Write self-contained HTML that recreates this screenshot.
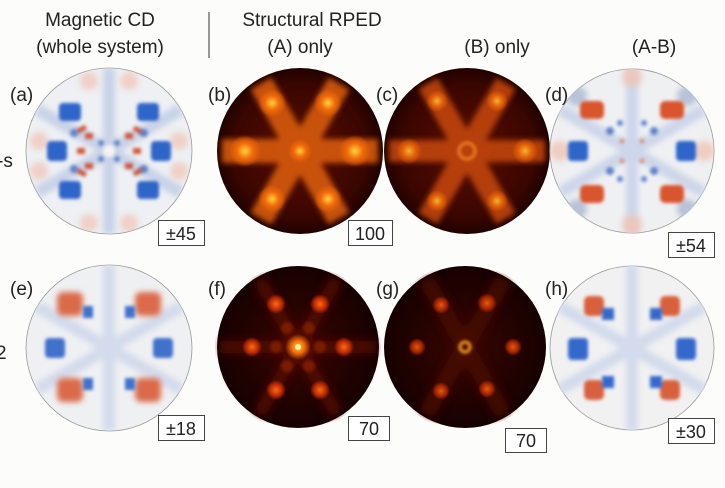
<!DOCTYPE html>
<html><head><style>
html,body{margin:0;padding:0;background:#fcfcfa;}
body{width:725px;height:483px;overflow:hidden;position:relative;font-family:"Liberation Sans","DejaVu Sans",sans-serif;}
</style></head><body>
<svg width="725" height="483" viewBox="0 0 725 483" xmlns="http://www.w3.org/2000/svg" font-family="Liberation Sans, DejaVu Sans, sans-serif">
<defs>
<filter id="b6" x="-50%" y="-50%" width="200%" height="200%"><feGaussianBlur stdDeviation="5"/></filter>
<filter id="b3" x="-50%" y="-50%" width="200%" height="200%"><feGaussianBlur stdDeviation="3"/></filter>
<filter id="b2" x="-50%" y="-50%" width="200%" height="200%"><feGaussianBlur stdDeviation="1.6"/></filter>
<radialGradient id="dark" cx="50%" cy="50%" r="50%"><stop offset="0" stop-color="#5a0e02"/><stop offset="0.8" stop-color="#3a0600"/><stop offset="1" stop-color="#200200"/></radialGradient>
<radialGradient id="dark2" cx="50%" cy="50%" r="50%"><stop offset="0" stop-color="#3a0600"/><stop offset="1" stop-color="#160100"/></radialGradient>
<radialGradient id="spot" cx="50%" cy="50%" r="50%"><stop offset="0" stop-color="#ffd23a"/><stop offset="0.5" stop-color="#f06a0a"/><stop offset="1" stop-color="#f06a0a" stop-opacity="0"/></radialGradient>
<radialGradient id="spotr" cx="50%" cy="50%" r="50%"><stop offset="0" stop-color="#ff6a10"/><stop offset="0.6" stop-color="#b82a04"/><stop offset="1" stop-color="#b82a04" stop-opacity="0"/></radialGradient>
<clipPath id="c1"><circle r="83"/></clipPath>
</defs>

<g font-size="19" fill="#222" text-anchor="middle">
<text x="100" y="26">Magnetic CD</text>
<text x="100" y="53">(whole system)</text>
<text x="312" y="26">Structural RPED</text>
<text x="300" y="53">(A) only</text>
<text x="497" y="53">(B) only</text>
<text x="654" y="53">(A-B)</text>
</g>
<line x1="209" y1="12" x2="209" y2="58" stroke="#333" stroke-width="1"/>
<text x="-3" y="167" font-size="19" fill="#222">-s</text>
<text x="-4" y="359" font-size="19" fill="#222">2</text>

<!-- (a) -->
<g transform="translate(109,151)">
<circle r="83" fill="#eef0f3" stroke="#999" stroke-width="0.8"/>
<g clip-path="url(#c1)">
<g filter="url(#b3)" fill="#c8d3e8"><rect x="-6" y="-83" width="12" height="166"/><rect x="-6" y="-83" width="12" height="166" transform="rotate(60)"/><rect x="-6" y="-83" width="12" height="166" transform="rotate(120)"/></g>
<g filter="url(#b3)" fill="#f1c8bc" opacity="0.8"><circle cx="-70" cy="-10" r="9"/><circle cx="70" cy="-10" r="9"/><circle cx="-20" cy="-70" r="9"/><circle cx="20" cy="-70" r="9"/><circle cx="-20" cy="72" r="9"/><circle cx="20" cy="72" r="9"/><circle cx="-70" cy="20" r="9"/><circle cx="70" cy="20" r="9"/></g>
<g filter="url(#b2)" fill="#2f65c8"><rect x="-50" y="-48" width="22" height="18" rx="4"/><rect x="28" y="-48" width="22" height="18" rx="4"/><rect x="-62" y="-10" width="20" height="20" rx="4"/><rect x="42" y="-10" width="20" height="20" rx="4"/><rect x="-50" y="30" width="22" height="18" rx="4"/><rect x="28" y="30" width="22" height="18" rx="4"/></g>
<g filter="url(#b2)" fill="#d05a3c"><rect x="-18" y="-35" width="10" height="5" transform="rotate(-30)"/><rect x="10" y="-35" width="10" height="5" transform="rotate(30)"/><rect x="-18" y="30" width="10" height="5" transform="rotate(30)"/><rect x="10" y="30" width="10" height="5" transform="rotate(-30)"/><rect x="-32" y="-3" width="8" height="6"/><rect x="24" y="-3" width="8" height="6"/><rect x="-24" y="-18" width="8" height="6"/><rect x="16" y="12" width="8" height="6"/><rect x="-24" y="12" width="8" height="6"/><rect x="16" y="-18" width="8" height="6"/></g>
<g filter="url(#b2)" fill="#4a6fc0" opacity="0.8"><circle cx="-8" cy="-8" r="3"/><circle cx="8" cy="8" r="3"/><circle cx="8" cy="-8" r="3"/><circle cx="-8" cy="8" r="3"/><circle cx="-35" cy="-18" r="4"/><circle cx="35" cy="18" r="4"/><circle cx="35" cy="-18" r="4"/><circle cx="-35" cy="18" r="4"/></g>
<circle r="6" fill="#f4f4f4" filter="url(#b2)"/>
</g>
</g>

<!-- (b) -->
<g transform="translate(300,151)">
<circle r="83" fill="url(#dark)"/>
<g clip-path="url(#c1)">
<g filter="url(#b3)" fill="#e0600a" opacity="0.85"><rect x="-78" y="-12" width="156" height="24"/><rect x="-78" y="-12" width="156" height="24" transform="rotate(60)"/><rect x="-78" y="-12" width="156" height="24" transform="rotate(120)"/></g>
<g fill="url(#spot)"><circle cx="-55" cy="0" r="16"/><circle cx="55" cy="0" r="16"/><circle cx="-28" cy="-48" r="14"/><circle cx="28" cy="-48" r="14"/><circle cx="-28" cy="48" r="14"/><circle cx="28" cy="48" r="14"/><circle r="12"/></g>
</g>
</g>

<!-- (c) -->
<g transform="translate(467,151)">
<circle r="83" fill="url(#dark)"/>
<g clip-path="url(#c1)">
<g filter="url(#b3)" fill="#c84808" opacity="0.85"><rect x="-78" y="-11" width="156" height="22"/><rect x="-78" y="-11" width="156" height="22" transform="rotate(60)"/><rect x="-78" y="-11" width="156" height="22" transform="rotate(120)"/></g>
<g fill="url(#spot)" opacity="0.8"><circle cx="-58" cy="0" r="13"/><circle cx="58" cy="0" r="13"/><circle cx="-30" cy="-50" r="11"/><circle cx="30" cy="-50" r="11"/><circle cx="-30" cy="50" r="11"/><circle cx="30" cy="50" r="11"/></g>
<circle r="8" fill="none" stroke="#f08020" stroke-width="3" filter="url(#b2)"/>
</g>
</g>

<!-- (d) -->
<g transform="translate(632,151)">
<circle r="82" fill="#eff0f2" stroke="#999" stroke-width="0.8"/>
<g clip-path="url(#c1)">
<g filter="url(#b3)" fill="#cdd6ea"><rect x="-6" y="-83" width="12" height="166"/><rect x="-6" y="-83" width="12" height="166" transform="rotate(60)"/><rect x="-6" y="-83" width="12" height="166" transform="rotate(120)"/></g>
<g filter="url(#b3)" fill="#f0c4b4" opacity="0.8"><circle cx="-72" cy="0" r="10"/><circle cx="72" cy="0" r="10"/><circle cx="0" cy="-74" r="10"/><circle cx="0" cy="74" r="10"/></g>
<g filter="url(#b3)" fill="#b8c2d8"><circle cx="-55" cy="-55" r="10"/><circle cx="55" cy="-55" r="10"/><circle cx="-55" cy="58" r="10"/><circle cx="55" cy="58" r="10"/></g>
<g filter="url(#b2)" fill="#d9552e"><rect x="-52" y="-50" width="24" height="18" rx="5"/><rect x="28" y="-50" width="24" height="18" rx="5"/><rect x="-52" y="34" width="24" height="18" rx="5"/><rect x="28" y="34" width="24" height="18" rx="5"/></g>
<g filter="url(#b2)" fill="#2f65c8"><rect x="-64" y="-10" width="20" height="20" rx="4"/><rect x="44" y="-10" width="20" height="20" rx="4"/></g>
<g filter="url(#b2)" fill="#4a72c8" opacity="0.85"><circle cx="-22" cy="-20" r="4"/><circle cx="22" cy="-20" r="4"/><circle cx="-22" cy="20" r="4"/><circle cx="22" cy="20" r="4"/><circle cx="-12" cy="-28" r="3"/><circle cx="12" cy="28" r="3"/><circle cx="12" cy="-28" r="3"/><circle cx="-12" cy="28" r="3"/></g>
<g filter="url(#b2)" fill="#d8805e" opacity="0.8"><circle cx="-10" cy="-10" r="2.5"/><circle cx="10" cy="10" r="2.5"/><circle cx="-10" cy="10" r="2.5"/><circle cx="10" cy="-10" r="2.5"/></g>
</g>
</g>

<!-- (e) -->
<g transform="translate(109,348)">
<circle r="83" fill="#eff0f2" stroke="#999" stroke-width="0.8"/>
<g clip-path="url(#c1)">
<g filter="url(#b3)" fill="#d3dbec"><rect x="-6" y="-83" width="12" height="166"/><rect x="-6" y="-83" width="12" height="166" transform="rotate(60)"/><rect x="-6" y="-83" width="12" height="166" transform="rotate(120)"/></g>
<g filter="url(#b3)" fill="#da6a48"><rect x="-52" y="-56" width="26" height="24" rx="6"/><rect x="26" y="-56" width="26" height="24" rx="6"/><rect x="-52" y="30" width="26" height="24" rx="6"/><rect x="26" y="30" width="26" height="24" rx="6"/></g>
<g filter="url(#b2)" fill="#3f72cc"><rect x="-64" y="-10" width="20" height="20" rx="4"/><rect x="44" y="-10" width="20" height="20" rx="4"/><rect x="-26" y="-42" width="10" height="12"/><rect x="16" y="-42" width="10" height="12"/><rect x="-26" y="30" width="10" height="12"/><rect x="16" y="30" width="10" height="12"/></g>
</g>
</g>

<!-- (f) -->
<g transform="translate(298,347)">
<circle r="81" fill="url(#dark2)"/>
<g clip-path="url(#c1)">
<g filter="url(#b6)" fill="#5a1002" opacity="0.9"><rect x="-78" y="-6" width="156" height="12"/><rect x="-78" y="-6" width="156" height="12" transform="rotate(60)"/><rect x="-78" y="-6" width="156" height="12" transform="rotate(120)"/></g>
<g fill="url(#spotr)"><circle cx="-46" cy="0" r="10"/><circle cx="46" cy="0" r="10"/><circle cx="-22" cy="-43" r="10"/><circle cx="22" cy="-43" r="10"/><circle cx="-22" cy="43" r="10"/><circle cx="22" cy="43" r="10"/></g>
<g fill="#7a1a04" filter="url(#b2)"><circle cx="-22" cy="0" r="6"/><circle cx="22" cy="0" r="6"/><circle cx="-11" cy="-19" r="6"/><circle cx="11" cy="-19" r="6"/><circle cx="-11" cy="19" r="6"/><circle cx="11" cy="19" r="6"/></g>
<circle r="13" fill="url(#spot)"/>
<circle r="3" fill="#fff2a0"/>
</g>
</g>

<!-- (g) -->
<g transform="translate(465,347)">
<circle r="81" fill="url(#dark2)"/>
<g clip-path="url(#c1)">
<g filter="url(#b6)" fill="#4a0c02" opacity="0.9"><rect x="-78" y="-8" width="156" height="16" transform="rotate(60)"/><rect x="-78" y="-8" width="156" height="16" transform="rotate(120)"/></g>
<g fill="url(#spotr)" opacity="0.85"><circle cx="-48" cy="0" r="9"/><circle cx="48" cy="0" r="9"/><circle cx="-24" cy="-42" r="9"/><circle cx="22" cy="-44" r="10"/><circle cx="-24" cy="44" r="9"/><circle cx="22" cy="42" r="9"/></g>
<circle r="5" fill="none" stroke="#ffa020" stroke-width="3" filter="url(#b2)"/>
</g>
</g>

<!-- (h) -->
<g transform="translate(632,348)">
<circle r="82" fill="#f1f1f2" stroke="#999" stroke-width="0.8"/>
<g clip-path="url(#c1)">
<g filter="url(#b3)" fill="#d3dbec"><rect x="-6" y="-83" width="12" height="166"/><rect x="-6" y="-83" width="12" height="166" transform="rotate(60)"/><rect x="-6" y="-83" width="12" height="166" transform="rotate(120)"/></g>
<g filter="url(#b2)" fill="#d9603c"><rect x="-48" y="-52" width="20" height="20" rx="5"/><rect x="28" y="-52" width="20" height="20" rx="5"/><rect x="-48" y="32" width="20" height="20" rx="5"/><rect x="28" y="32" width="20" height="20" rx="5"/></g>
<g filter="url(#b2)" fill="#3468cc"><rect x="-64" y="-10" width="20" height="22" rx="4"/><rect x="44" y="-10" width="20" height="22" rx="4"/><rect x="-30" y="-40" width="12" height="12"/><rect x="18" y="-40" width="12" height="12"/><rect x="-30" y="28" width="12" height="12"/><rect x="18" y="28" width="12" height="12"/></g>
</g>
</g>

<!-- labels -->
<g font-size="19" fill="#222">
<text x="10" y="101">(a)</text><text x="208" y="101">(b)</text><text x="376" y="101">(c)</text><text x="545" y="101">(d)</text>
<text x="10" y="295">(e)</text><text x="208" y="295">(f)</text><text x="376" y="295">(g)</text><text x="545" y="295">(h)</text>
</g>
<g fill="#fff" stroke="#444" stroke-width="1">
<rect x="158.5" y="220.5" width="46" height="25"/><rect x="348.5" y="220.5" width="44" height="25"/><rect x="668.5" y="232.5" width="46" height="25"/>
<rect x="158.5" y="415.5" width="46" height="25"/><rect x="348.5" y="416.5" width="41" height="24"/><rect x="505.5" y="428.5" width="41" height="24"/><rect x="668.5" y="418.5" width="46" height="25"/>
</g>
<g font-size="18" fill="#222" text-anchor="middle">
<text x="181" y="240">±45</text><text x="370" y="240">100</text><text x="691" y="252">±54</text>
<text x="181" y="435">±18</text><text x="369" y="435">70</text><text x="526" y="447">70</text><text x="691" y="438">±30</text>
</g>
</svg>
</body></html>
